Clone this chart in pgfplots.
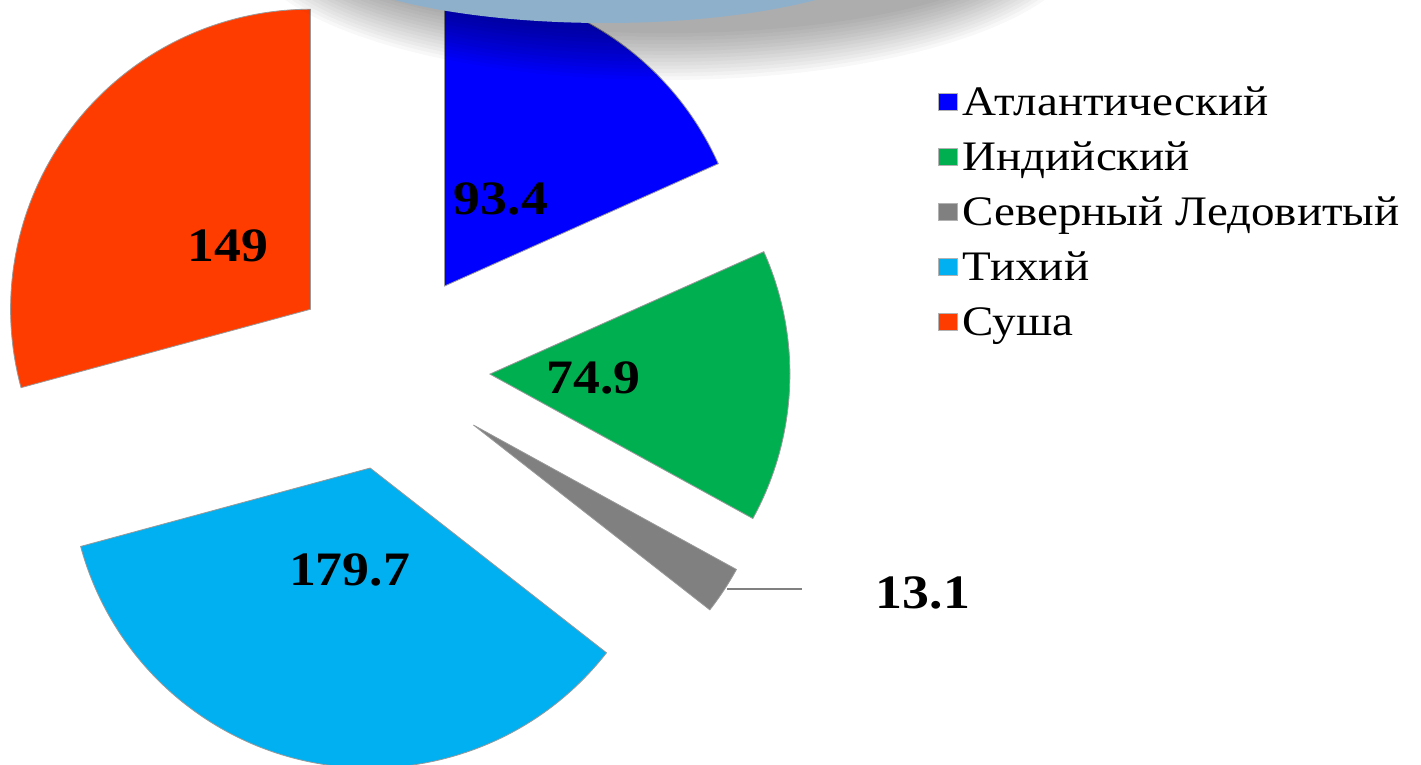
\documentclass[border=0pt]{standalone}
\usepackage{pgfplots}
\pgfplotsset{compat=1.18}
\usepackage{pgfplotstable}
\usepackage{fontspec}
\setmainfont[FakeStretch=1.12]{Liberation Serif}
\definecolor{cAtl}{RGB}{0,0,255}
\definecolor{cInd}{RGB}{0,176,80}
\definecolor{cArc}{RGB}{128,128,128}
\definecolor{cPac}{RGB}{0,176,240}
\definecolor{cLand}{RGB}{255,60,0}
\definecolor{cBanner}{RGB}{143,176,203}
\newcommand\lblfont{\fontsize{48}{50}\selectfont\bfseries}
\newcommand\legfont{\fontsize{42}{48}\selectfont}

\pgfplotstableread{
name value col showlbl
Atl  93.4  cAtl  1
Ind  74.9  cInd  1
Arc  13.1  cArc  0
Pac  179.7 cPac  1
Land 149   cLand 1
}\piedata

\begin{document}
\begin{tikzpicture}
\begin{axis}[
  name=ax,
  width=1421pt, height=764pt, scale only axis,
  xmin=0, xmax=1421, ymin=0, ymax=764,
  hide axis, clip=true,
  legend cell align=left,
  legend image code/.code={\fill[#1, draw=gray!60, line width=0.4pt] (0pt,-5pt) rectangle (19pt,12pt);},
  legend style={at={(axis cs:938,679)}, anchor=north west, draw=none, fill=none,
    inner sep=0pt, row sep=15pt, column sep=5pt, font=\legfont,
    nodes={text height=30pt, text depth=10pt, inner sep=0pt}},
]
% total
\def\total{0}
\pgfplotsforeachungrouped \i in {0,...,4}{%
  \pgfplotstablegetelem{\i}{value}\of\piedata
  \pgfmathsetmacro{\total}{\total+\pgfplotsretval}%
}
\def\cum{90}
\pgfplotsforeachungrouped \i in {0,...,4}{%
  \pgfplotstablegetelem{\i}{value}\of\piedata \let\vv\pgfplotsretval
  \pgfplotstablegetelem{\i}{col}\of\piedata \let\cc\pgfplotsretval
  \pgfplotstablegetelem{\i}{showlbl}\of\piedata \let\ss\pgfplotsretval
  \pgfmathsetmacro{\sweep}{360*(\vv/\total)}%
  \pgfmathsetmacro{\sa}{\cum}%
  \pgfmathsetmacro{\sb}{\cum-\sweep}%
  \pgfmathsetmacro{\sm}{(\sa+\sb)/2}%
  \pgfmathsetmacro{\ax}{390+100*cos(\sm)}%
  \pgfmathsetmacro{\ay}{394+100*sin(\sm)}%
  \pgfmathsetmacro{\lx}{\ax+104*cos(\sm)}%
  \pgfmathsetmacro{\ly}{\ay+104*sin(\sm)}%
  \edef\temp{\noexpand\fill[\cc, draw=gray!80, line width=0.8pt] (axis cs:\ax,\ay) -- ++(\sa:300pt) arc[start angle=\sa, end angle=\sb, radius=300pt] -- cycle;}%
  \temp
  \ifnum\ss=1
    \edef\temp{\noexpand\node[font=\noexpand\lblfont] at (axis cs:\lx,\ly) {\vv};}%
    \temp
  \fi
  \global\let\cum\sb
}
% label of the small slice with leader line
\draw[gray, line width=1.5pt] (axis cs:727,175) -- (axis cs:802,175);
\node[font=\lblfont] at (axis cs:923,171) {13.1};
% decorative banner with soft shadow
\pgfplotsinvokeforeach{0,...,13}{
  \fill[black, opacity=0.028] (axis cs:665,824) ellipse [x radius={420pt-4.6pt*#1}, y radius={140pt-3.6pt*#1}];
}
\fill[cBanner] (axis cs:605,821) ellipse [x radius=300pt, y radius=80pt];
\addlegendimage{cAtl}
\addlegendimage{cInd}
\addlegendimage{cArc}
\addlegendimage{cPac}
\addlegendimage{cLand}
\legend{Атлантический, Индийский, Северный Ледовитый, Тихий, Суша}
\end{axis}
\pgfresetboundingbox
\useasboundingbox (ax.south west) rectangle (ax.north east);
\end{tikzpicture}
\end{document}
